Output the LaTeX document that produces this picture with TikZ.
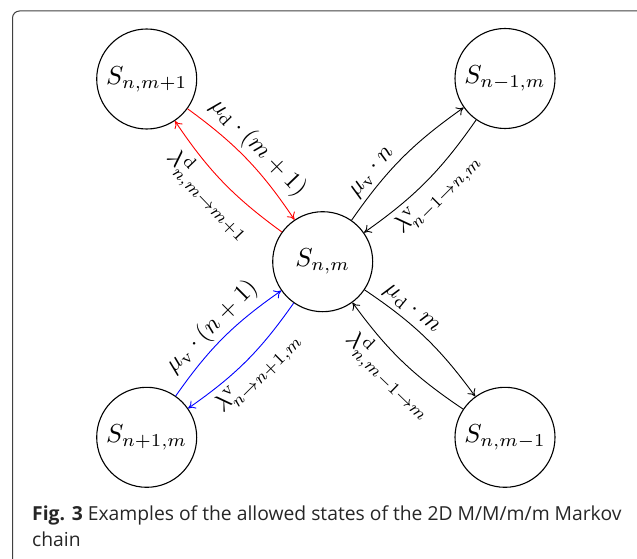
\documentclass[tikz,border=0pt]{standalone}
\usepackage{fontspec}
\newfontfamily\capfont{Open Sans}
\usetikzlibrary{arrows.meta}
\newcommand{\statemath}[1]{\scalebox{2.6}{$#1$}}
\newcommand{\ratemath}[1]{\scalebox{2.45}{$#1$}}
\begin{document}
\begin{tikzpicture}[x=1pt,y=-1pt,
  state/.style={circle,draw,line width=1.1pt,minimum size=100pt,inner sep=0pt},
  tr/.style={-{To[length=7pt,width=9.5pt]},line width=0.9pt,bend left=10},
  lab/.style={sloped,inner sep=3.5pt,text=black},
  captext/.style={anchor=base west,inner sep=0pt,font=\capfont\fontsize{19.3}{24}\selectfont,text=black!85}]
\useasboundingbox (0,0) rectangle (637,559);
\draw[line width=1pt,color=black!75,rounded corners=7pt] (12.5,11) rectangle (660,580);
\node[state] (a) at (146.7,79) {\statemath{S_{n,m+1}}};
\node[state] (b) at (505,78.5) {\statemath{S_{n-1,m}}};
\node[state] (c) at (322.7,261.7) {\statemath{S_{n,m}}};
\node[state] (d) at (146.7,437.3) {\statemath{S_{n+1,m}}};
\node[state] (e) at (505,437.3) {\statemath{S_{n,m-1}}};
\draw[tr,red] (a) to node[lab,above]{\ratemath{\mu_{\mathrm{d}}\cdot(m+1)}} (c);
\draw[tr,red] (c) to node[lab,below]{\ratemath{\lambda^{\mathrm{d}}_{n,m\to m+1}}} (a);
\draw[tr] (c) to node[lab,above,pos=0.3]{\ratemath{\mu_{\mathrm{v}}\cdot n}} (b);
\draw[tr] (b) to node[lab,below]{\ratemath{\lambda^{\mathrm{v}}_{n-1\to n,m}}} (c);
\draw[tr,blue] (d) to node[lab,above]{\ratemath{\mu_{\mathrm{v}}\cdot(n+1)}} (c);
\draw[tr,blue] (c) to node[lab,below]{\ratemath{\lambda^{\mathrm{v}}_{n\to n+1,m}}} (d);
\draw[tr] (c) to node[lab,above,pos=0.3]{\ratemath{\mu_{\mathrm{d}}\cdot m}} (e);
\draw[tr] (e) to node[lab,below]{\ratemath{\lambda^{\mathrm{d}}_{n,m-1\to m}}} (c);
\node[captext] (cap1) at (32,520) {\textbf{Fig. 3} Examples of the allowed states of the 2D M/M/m/m Markov};
\node[captext] (cap2) at (32,546.7) {chain};
\end{tikzpicture}
\end{document}
